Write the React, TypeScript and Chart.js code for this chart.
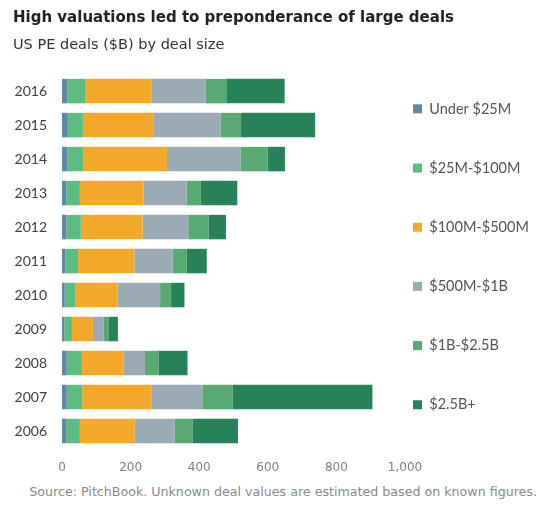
import { useEffect, useRef } from "react";
import { Chart, registerables } from "chart.js";

Chart.register(...registerables);

const years = ["2006", "2007", "2008", "2009", "2010", "2011", "2012", "2013", "2014", "2015", "2016"];
const under25M = [12, 14, 14, 7, 8, 10, 13, 13, 16, 17, 16];
const m25to100 = [40, 45, 44, 22, 30, 37, 42, 39, 47, 44, 51];
const m100to500 = [160, 203, 122, 61, 124, 164, 180, 186, 243, 207, 195];
const m500to1B = [117, 147, 62, 32, 124, 112, 133, 125, 214, 194, 156];
const b1to25 = [51, 89, 39, 13, 32, 41, 59, 42, 79, 60, 63];
const b25plus = [133, 407, 85, 28, 39, 58, 51, 106, 51, 216, 168];

const seriesLabels = ["Under $25M", "$25M-$100M", "$100M-$500M", "$500M-$1B", "$1B-$2.5B", "$2.5B+"];
const seriesColors = ["#5e88a5", "#5cbd80", "#f3a829", "#9aabb6", "#57ab72", "#258259"];
const xTicks = [0, 200, 400, 600, 800, 1000];

const titleText = "High valuations led to preponderance of large deals";
const subtitleText = "US PE deals ($B) by deal size";
const sourceText = "Source: PitchBook. Unknown deal values are estimated based on known figures.";

export default function App() {
  const ref = useRef<HTMLCanvasElement>(null);

  useEffect(() => {
    const values = [under25M, m25to100, m100to500, m500to1B, b1to25, b25plus];
    const chart = new Chart(ref.current as HTMLCanvasElement, {
      type: "bar",
      data: {
        labels: years,
        datasets: values.map((v, i) => ({
          label: seriesLabels[i],
          data: v,
          backgroundColor: seriesColors[i],
          borderWidth: 0,
        })),
      },
      options: {
        animation: false,
        responsive: true,
        maintainAspectRatio: false,
        indexAxis: "y",
        layout: { padding: { left: 5, right: 0, top: 0, bottom: 6 } },
        scales: {
          x: {
            stacked: true,
            min: 0,
            max: 1000,
            afterBuildTicks: (axis: any) => {
              axis.ticks = xTicks.map((v) => ({ value: v }));
            },
            afterFit: (axis: any) => {
              axis.height = 30;
            },
            grid: { display: false, drawTicks: false },
            border: { display: false },
            ticks: {
              padding: 13,
              color: "#808080",
              font: { family: "DejaVu Sans", size: 12 },
              callback: (v: any) => Number(v).toLocaleString("en-US"),
            },
          },
          y: {
            stacked: true,
            reverse: true,
            afterFit: (axis: any) => {
              axis.width = 49;
            },
            grid: { display: false, drawTicks: false },
            border: { display: false },
            ticks: {
              padding: 15,
              color: "#404040",
              font: { family: "Lato", size: 14 },
            },
          },
        },
        plugins: {
          title: {
            display: true,
            text: titleText,
            align: "start",
            color: "#222222",
            font: { family: "DejaVu Sans", size: 15, weight: "bold", lineHeight: 1.2 },
            padding: { top: 1.5, bottom: 5 },
          },
          subtitle: {
            display: true,
            text: subtitleText,
            align: "start",
            color: "#333333",
            font: { family: "DejaVu Sans", size: 14.5, weight: "normal", lineHeight: 1.2 },
            padding: { top: 3.7, bottom: 20.5 },
          },
          legend: {
            position: "right",
            align: "start",
            fullSize: false,
            maxWidth: 132,
            title: { display: true, text: " ", font: { size: 10, lineHeight: 1 }, padding: { top: 0, bottom: 9.5 } },
            labels: {
              boxWidth: 9,
              boxHeight: 9,
              padding: 8,
              color: "#555555",
              font: { family: "Lato", size: 14.5, lineHeight: 3.53 },
              generateLabels: (c: any) =>
                (Chart.defaults.plugins.legend.labels.generateLabels as any)(c).map((it: any) => ({
                  ...it,
                  text: [it.text],
                })),
            },
          },
          tooltip: { enabled: false },
        },
      },
    } as any);
    return () => chart.destroy();
  }, []);

  return (
    <div style={{ width: 529 }}>
      <div style={{ position: "relative", height: 476 }}>
        <canvas ref={ref} />
      </div>
      <div
        style={{
          fontFamily: "DejaVu Sans",
          fontSize: 12.65,
          lineHeight: "16px",
          color: "#8a8a8a",
          textAlign: "right",
          whiteSpace: "nowrap",
        }}
      >
        {sourceText}
      </div>
    </div>
  );
}
